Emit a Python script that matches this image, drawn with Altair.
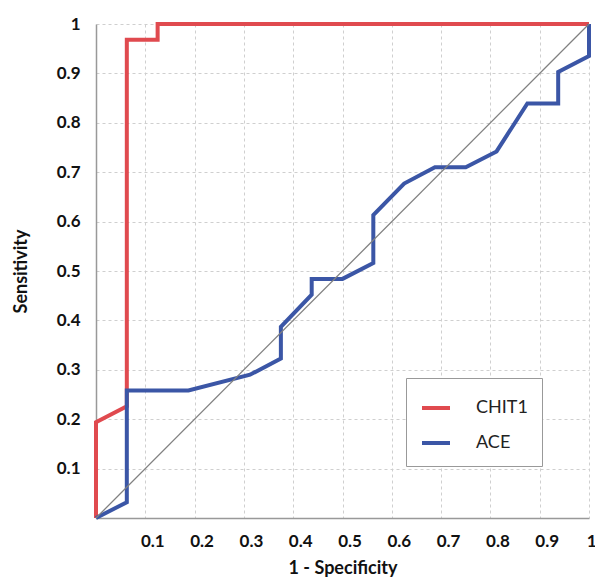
import altair as alt
import pandas as pd

# CHIT1 ROC curve points
chit_x = [0, 0, 0.0625, 0.0625, 0.125, 0.125, 1]
chit_y = [0, 0.194, 0.226, 0.968, 0.968, 1, 1]

# ACE ROC curve points
ace_x = [0, 0.0625, 0.0625, 0.1875, 0.3125, 0.375, 0.375, 0.4375, 0.4375, 0.5,
         0.5625, 0.5625, 0.625, 0.6875, 0.75, 0.8125, 0.875, 0.9375, 0.9375, 1, 1]
ace_y = [0, 0.032, 0.258, 0.258, 0.290, 0.323, 0.387, 0.452, 0.484, 0.484,
         0.516, 0.613, 0.677, 0.710, 0.710, 0.742, 0.839, 0.839, 0.903, 0.935, 1]

# reference diagonal
ref_x = [0, 1]
ref_y = [0, 1]

tick_vals = [0.1, 0.2, 0.3, 0.4, 0.5, 0.6, 0.7, 0.8, 0.9, 1]
series = ["CHIT1", "ACE"]
line_colors = ["#e04a4f", "#3b56a6"]

rows = []
for i, (x, y) in enumerate(zip(chit_x, chit_y)):
    rows.append({"x": x, "y": y, "series": "CHIT1", "i": i})
for i, (x, y) in enumerate(zip(ace_x, ace_y)):
    rows.append({"x": x, "y": y, "series": "ACE", "i": i})
df = pd.DataFrame(rows)
ref = pd.DataFrame({"x": ref_x, "y": ref_y})

font = "Lato"

xenc = alt.X("x:Q", scale=alt.Scale(domain=[0, 1], nice=False),
             axis=alt.Axis(values=tick_vals, format="~g", title="1 - Specificity",
                           labelOffset=7, labelPadding=15, titlePadding=10,
                           labelAlign={"condition": {"test": "datum.value >= 1", "value": "right"},
                                       "value": "center"}))
yenc = alt.Y("y:Q", scale=alt.Scale(domain=[0, 1], nice=False),
             axis=alt.Axis(values=tick_vals, format="~g", title="Sensitivity",
                           labelPadding=16, titlePadding=26))

lines = alt.Chart(df).mark_line(strokeWidth=4, strokeJoin="miter").encode(
    x=xenc,
    y=yenc,
    color=alt.Color("series:N", scale=alt.Scale(domain=series, range=line_colors),
                    sort=series,
                    legend=alt.Legend(title=None, orient="none", legendX=310, legendY=354,
                                      strokeColor="#999999", fillColor="white", padding=14,
                                      symbolType="stroke", symbolSize=784, symbolStrokeWidth=4,
                                      labelFontSize=18, labelFont=font, labelColor="#222222",
                                      labelOffset=24, rowPadding=10)),
    order=alt.Order("i:Q"),
)

diag = alt.Chart(ref).mark_line(color="#808080", strokeWidth=1.3).encode(
    x=alt.X("x:Q"), y=alt.Y("y:Q")
)

chart = alt.layer(lines, diag).properties(
    width=493, height=494,
    padding={"left": 88, "top": 16, "right": 6, "bottom": 60},
    autosize="none",
).configure_view(stroke=None).configure_axis(
    labelFont=font, labelFontSize=17, labelFontWeight="bold", labelColor="#111111",
    titleFont=font, titleFontSize=18, titleFontWeight="bold", titleColor="#111111",
    ticks=False, domainColor="#999999", domainWidth=1.5,
    grid=True, gridColor="#cfcfcf", gridDash=[3, 3], gridWidth=1,
)

chart.save("out.html", embed_options={"renderer": "svg", "actions": False})
